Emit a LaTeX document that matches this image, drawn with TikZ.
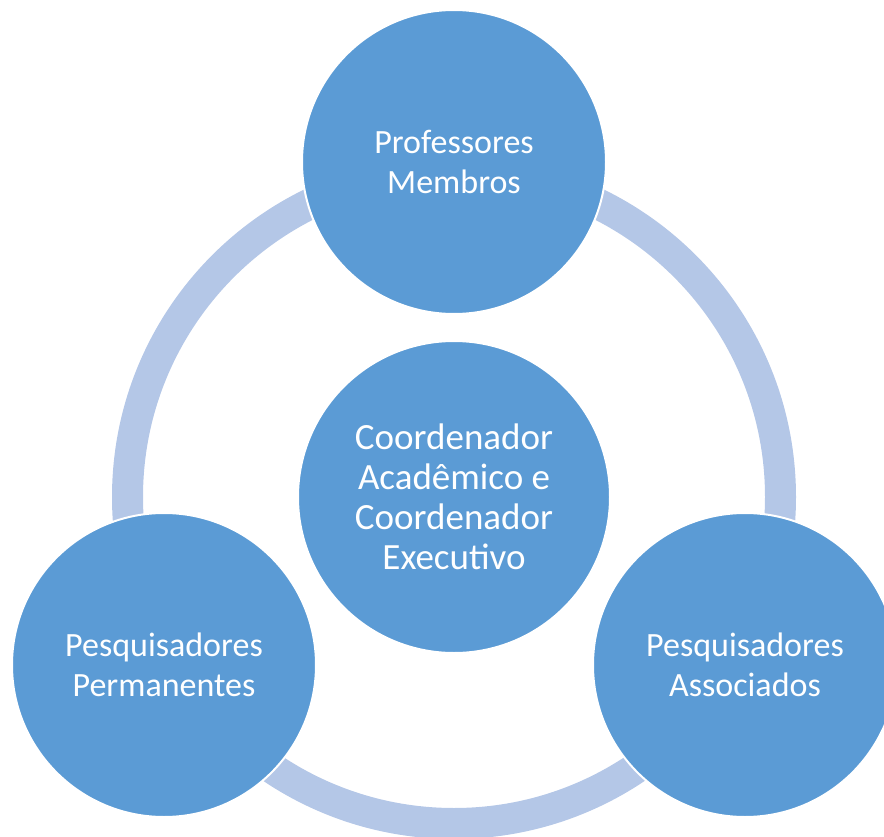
\documentclass[tikz,border=0pt]{standalone}
\usepackage{fontspec}
\setmainfont{Carlito}
\definecolor{circblue}{HTML}{5B9BD5}
\definecolor{ringblue}{HTML}{B4C7E7}
\begin{document}
\begin{tikzpicture}[x=1pt,y=-1pt,
    role/.style={circle,fill=circblue,draw=white,line width=2pt,
      minimum size=304pt,inner sep=0pt,align=center,text=white,
      font=\fontsize{34}{40}\selectfont}]
    \useasboundingbox (0,0) rectangle (884,837);
    \draw[ringblue,line width=31pt] (454,497) circle (326.5);
    \node[role](top) at (454,162) {Professores\\Membros};
    \node[role,minimum size=312pt,font=\fontsize{37}{40}\selectfont](mid) at (454,497) {Coordenador\\Acadêmico e\\Coordenador\\Executivo};
    \node[role](left) at (164,665) {Pesquisadores\\Permanentes};
    \node[role](right) at (745,665) {Pesquisadores\\Associados};
\end{tikzpicture}
\end{document}
